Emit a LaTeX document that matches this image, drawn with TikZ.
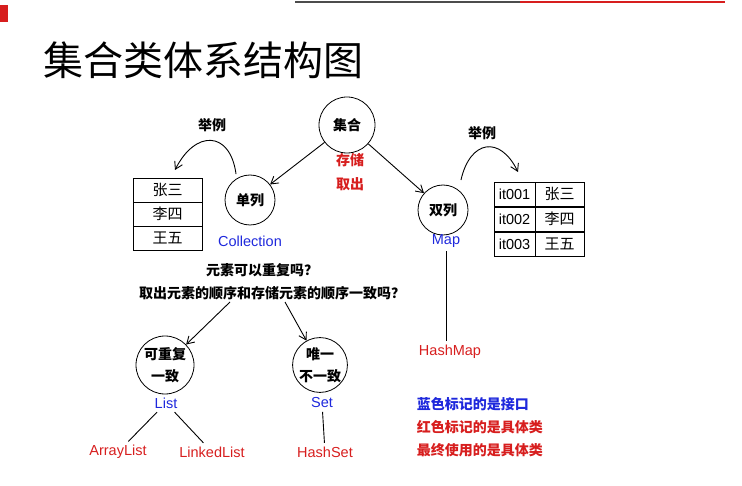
\documentclass[tikz,border=0pt]{standalone}
\usepackage{fontspec}
\setmainfont{Liberation Sans}
\newfontfamily\cjk{Noto Sans CJK SC}
\usetikzlibrary{arrows.meta}
\definecolor{ifblue}{RGB}{30,40,220}
\definecolor{clsred}{RGB}{215,30,30}
\tikzset{%
  >={Straight Barb[length=2.5mm,width=3mm]},
  % styles for the pieces of the diagram
       circ/.style = {circle, draw=black, thick, inner sep=0pt, font=\cjk\bfseries\fontsize{14}{17}\selectfont, align=center},
      iface/.style = {text=ifblue, font=\fontsize{14.5}{16}\selectfont},
      klass/.style = {text=clsred, font=\fontsize{14.5}{16}\selectfont},
       note/.style = {font=\cjk\bfseries\fontsize{14}{16}\selectfont},
       cell/.style = {draw=black, thick, minimum height=24pt, inner sep=1pt, font=\cjk\fontsize{15}{16}\selectfont},
}
\begin{document}
\begin{tikzpicture}[x=1pt,y=-1pt, line width=0.9pt]
  \useasboundingbox (0,0) rectangle (742,486);
  % top bar
  \draw[gray!60!black, line width=2pt] (295,2) -- (520,2);
  \draw[clsred, line width=2pt] (520,2) -- (725,2);
  \fill[clsred] (0,5) rectangle (8,22);
  \node (title) [anchor=west, font=\cjk\fontsize{40}{42}\selectfont] at (40,60) {集合类体系结构图};

  % main circles
  \node (set)    [circ, minimum size=56pt] at (347,125) {集合};
  \node (store)  [note, text=clsred, align=center, font=\cjk\bfseries\fontsize{14}{24}\selectfont] at (350,172) {存储\\取出};
  \node (single) [circ, minimum size=50pt] at (250,200) {单列};
  \node (coll)   [iface] at (250,241) {Collection};
  \node (double) [circ, minimum size=50pt] at (443,210) {双列};
  \node (map)    [iface] at (446,241) {Map};
  \draw[->] (set) -- (single);
  \draw[->] (set) -- (double);

  % examples
  \node (exl) [note] at (212,125) {举例};
  \draw[->] (single.north west) ++(4,-8) .. controls (230,130) and (195,130) .. (175,170);
  \node (c1) [cell, minimum width=69pt] at (167.5,190) {张三};
  \node (c2) [cell, minimum width=69pt] at (167.5,214) {李四};
  \node (c3) [cell, minimum width=69pt] at (167.5,238) {王五};
  \node (exr) [note] at (482,133) {举例};
  \draw[->] (double.north east) ++(0,-12) .. controls (470,140) and (500,135) .. (518,172);
  \foreach \i/\k/\n [count=\r] in {it001/张三/k1, it002/李四/k2, it003/王五/k3} {
    \node (\n) [cell, minimum width=41pt, font=\fontsize{14.5}{16}\selectfont] at (514.5,169+25*\r) {\i};
    \node (v\n) [cell, minimum width=49pt] at (559.5,169+25*\r) {\k};
  }

  % questions
  \node (q1) [note] at (262,270) {元素可以重复吗？};
  \node (q2) [note] at (272,293) {取出元素的顺序和存储元素的顺序一致吗？};
  \node (lst) [circ, minimum size=58pt, font=\cjk\bfseries\fontsize{14}{22}\selectfont] at (165,365) {可重复\\一致};
  \node (list) [iface] at (166,403) {List};
  \node (st) [circ, minimum size=54pt, font=\cjk\bfseries\fontsize{14}{22}\selectfont] at (320,365) {唯一\\不一致};
  \node (sett) [iface] at (322,403) {Set};
  \draw[->] (230,302) -- (lst);
  \draw[->] (285,302) -- (st);

  % concrete classes
  \node (al) [klass] at (118,452) {ArrayList};
  \node (ll) [klass] at (212,452) {LinkedList};
  \node (hs) [klass] at (325,452) {HashSet};
  \node (hm) [klass] at (450,352) {HashMap};
  \draw (list) -- (al);
  \draw (list) -- (ll);
  \draw (sett) -- (hs);
  \draw (map) -- (hm.north -| map);

  % legend
  \node (lg1) [note, text=ifblue, anchor=west] at (413,404) {蓝色标记的是接口};
  \node (lg2) [note, text=clsred, anchor=west] at (413,427) {红色标记的是具体类};
  \node (lg3) [note, text=clsred, anchor=west] at (413,450) {最终使用的是具体类};
\end{tikzpicture}
\end{document}
